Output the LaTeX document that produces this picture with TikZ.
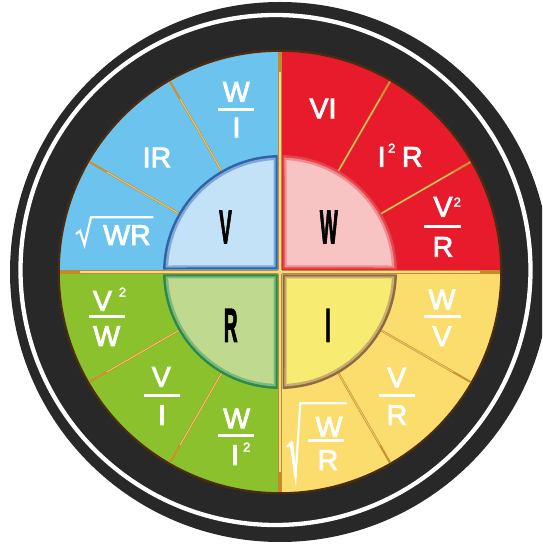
\documentclass[tikz,border=0pt]{standalone}
\usepackage{fontspec}
\setmainfont{Liberation Sans}
\newfontfamily\labfont[FakeBold=3]{Liberation Sans}
\newfontfamily\bigfont[FakeBold=2.5]{Liberation Sans Bold}
\usepackage{graphicx}
\usetikzlibrary{calc}
\definecolor{ringdark}{HTML}{282828}
\definecolor{rimbrown}{HTML}{4A2C12}
\definecolor{bluein}{HTML}{6CC4EE}
\definecolor{blueout}{HTML}{3A9EDE}
\definecolor{redin}{HTML}{E71B2B}
\definecolor{redout}{HTML}{CF0913}
\definecolor{greenin}{HTML}{8BC12C}
\definecolor{greenout}{HTML}{589A15}
\definecolor{yellowin}{HTML}{FADD6C}
\definecolor{yellowout}{HTML}{F2C13A}
\definecolor{divgold}{HTML}{C38A2C}
\definecolor{goldlight}{HTML}{F3D98C}
\definecolor{spokegold}{HTML}{C9922E}
\definecolor{vb1}{HTML}{3062A6}
\definecolor{vb2}{HTML}{7FA9DA}
\definecolor{vb3}{HTML}{C3E2F7}
\definecolor{wp1}{HTML}{E5454D}
\definecolor{wp2}{HTML}{F08C90}
\definecolor{wp3}{HTML}{F8C3C3}
\definecolor{rg1}{HTML}{2A8A4C}
\definecolor{rg2}{HTML}{7DB87C}
\definecolor{rg3}{HTML}{BFDA8F}
\definecolor{iy1}{HTML}{8B6B45}
\definecolor{iy2}{HTML}{C9AE6A}
\definecolor{iy3}{HTML}{F7EC71}
\pgfdeclareradialshading{bluesh}{\pgfpointorigin}{color(0bp)=(bluein);color(27bp)=(bluein);color(50bp)=(blueout)}
\pgfdeclareradialshading{redsh}{\pgfpointorigin}{color(0bp)=(redin);color(27bp)=(redin);color(50bp)=(redout)}
\pgfdeclareradialshading{greensh}{\pgfpointorigin}{color(0bp)=(greenin);color(27bp)=(greenin);color(50bp)=(greenout)}
\pgfdeclareradialshading{yellowsh}{\pgfpointorigin}{color(0bp)=(yellowin);color(27bp)=(yellowin);color(50bp)=(yellowout)}
\newcommand\qlayer[4]{%
  \begin{scope}[rotate around={#1:(C)}]
    \fill[#4] ($(C)+(#2,#2)$) -- ($(C)+({asin(#2/#3)}:#3)$)
      arc[start angle={asin(#2/#3)}, end angle={90-asin(#2/#3)}, radius=#3] -- cycle;
  \end{scope}}
\newcommand\quarterbox[4]{%
  \qlayer{#1}{2.5}{117}{#2}\qlayer{#1}{4.5}{114.5}{#3}\qlayer{#1}{6.5}{112}{#4}}
\tikzset{
  lab/.style={anchor=base, inner sep=0, text=white, font=\labfont\fontsize{28.5}{28.5}\selectfont},
  suplab/.style={anchor=base, inner sep=0, text=white, font=\labfont\fontsize{13}{13}\selectfont},
  bigl/.style={anchor=base, inner sep=0, text=black, font=\bigfont\fontsize{47.5}{47.5}\selectfont},
  fbar/.style={white, line width=2.6},
  radline/.style={white, line width=2.2, line join=miter, miter limit=20},
  spoke/.style={spokegold, line width=2.1},
  divider/.style={divgold, line width=4},
  divhi/.style={goldlight, line width=1.1}
}
\begin{document}
\begin{tikzpicture}[x=1pt,y=1pt]
\clip (0,0) rectangle (542,544);
\coordinate (C) at (280,272);
% outer ring
\fill[ringdark] (C) circle[radius=270];
\draw[white, line width=4.3] (275.5,274) circle[radius=255];
\fill[rimbrown] (C) circle[radius=222.5];
% coloured quadrants
\begin{scope}
  \clip (C) rectangle ++(-221,221);
  \shade[shading=bluesh] (C) circle[radius=221];
\end{scope}
\begin{scope}
  \clip (C) rectangle ++(221,221);
  \shade[shading=redsh] (C) circle[radius=221];
\end{scope}
\begin{scope}
  \clip (C) rectangle ++(-221,-221);
  \shade[shading=greensh] (C) circle[radius=221];
\end{scope}
\begin{scope}
  \clip (C) rectangle ++(221,-221);
  \shade[shading=yellowsh] (C) circle[radius=221];
\end{scope}
\draw[rimbrown, line width=1.6] (C) circle[radius=221];
% spokes
\foreach \a in {30,60,120,150,210,240,300,330}{
  \draw[spoke] ($(C)+(\a:110)$) -- ($(C)+(\a:220)$);
  \draw[goldlight, line width=0.6] ($(C)+(\a:110)$) -- ($(C)+(\a:200)$);
}
% dividers
\draw[divider] ($(C)+(-220,0)$) -- ($(C)+(220,0)$);
\draw[divider] ($(C)+(0,-220)$) -- ($(C)+(0,220)$);
\draw[divhi] ($(C)+(-200,0)$) -- ($(C)+(200,0)$);
\draw[divhi] ($(C)+(0,-200)$) -- ($(C)+(0,200)$);
% inner quarters
\quarterbox{0}{wp1}{wp2}{wp3}
\quarterbox{90}{vb1}{vb2}{vb3}
\quarterbox{180}{rg1}{rg2}{rg3}
\quarterbox{270}{iy1}{iy2}{iy3}
\fill[goldlight] (C) circle[radius=2.5];
% labels (pixel coordinates)
\begin{scope}[shift={(0,544)}, yscale=-1]
  \node[bigl] (V) at (225.5,243.3) {\scalebox{0.4}[1]{V}};
  \node[bigl] (W) at (328.8,243.3) {\scalebox{0.4}[1]{W}};
  \node[bigl] (R) at (230.7,341.7) {\scalebox{0.4}[1]{R}};
  \node[bigl] (I) at (328,341.7) {\scalebox{0.4}[1]{I}};
  % blue
  \node[lab] (wiN) at (236.3,101.7) {W};
  \draw[fbar] (218.3,109.3) -- (254.3,109.3);
  \node[lab] (wiD) at (236.5,137.3) {I};
  \node[lab] (ir) at (157,167.3) {IR};
  \node[lab] (wr) at (127,245) {WR};
  \draw[radline] (76,234) -- (80,231) -- (84.5,244.8) -- (91,217.3) -- (153.3,217.3);
  % red
  \node[lab] (vi) at (323,118.3) {VI};
  \node[lab] (irI) at (381.7,166.7) {I};
  \node[suplab] (irS) at (391.7,152.7) {2};
  \node[lab] (irR) at (412.3,166.7) {R};
  \node[lab] (vrN) at (443,216.7) {V};
  \node[suplab] (vrS) at (457.3,206.7) {2};
  \draw[fbar] (424,226.7) -- (460.7,226.7);
  \node[lab] (vrD) at (443,256.7) {R};
  % green
  \node[lab] (vwN) at (102.5,310.7) {V};
  \node[suplab] (vwS) at (122.5,296.7) {2};
  \draw[fbar] (89.3,316.7) -- (125,316.7);
  \node[lab] (vwD) at (106.7,346) {W};
  \node[lab] (viN) at (161.3,386.7) {V};
  \draw[fbar] (144,395.7) -- (180,395.7);
  \node[lab] (viD) at (162,425) {I};
  \node[lab] (wiiN) at (236.7,428.3) {W};
  \draw[fbar] (218.3,435.7) -- (254.3,435.7);
  \node[lab] (wiiD) at (235,465) {I};
  \node[suplab] (wiiS) at (246.7,451.7) {2};
  % yellow
  \node[lab] (wvN) at (442,309.3) {W};
  \draw[fbar] (424,316.7) -- (460.7,316.7);
  \node[lab] (wvD) at (442,346) {V};
  \node[lab] (vRN) at (396.7,387.3) {V};
  \draw[fbar] (379.3,395.3) -- (415,395.3);
  \node[lab] (vRD) at (397,425) {R};
  \node[lab] (wRN) at (329,436.7) {W};
  \draw[fbar] (308.3,440.7) -- (344,440.7);
  \node[lab] (wRD) at (328,470) {R};
  \draw[radline] (287,447) -- (290.5,443) -- (295.5,476.7) -- (300.3,403.3) -- (346.7,403.3);
  \fill[white] (290.5,442) -- (293,441) -- (297,476.7) -- (294.2,476.7) -- cycle;
\end{scope}
\end{tikzpicture}
\end{document}
